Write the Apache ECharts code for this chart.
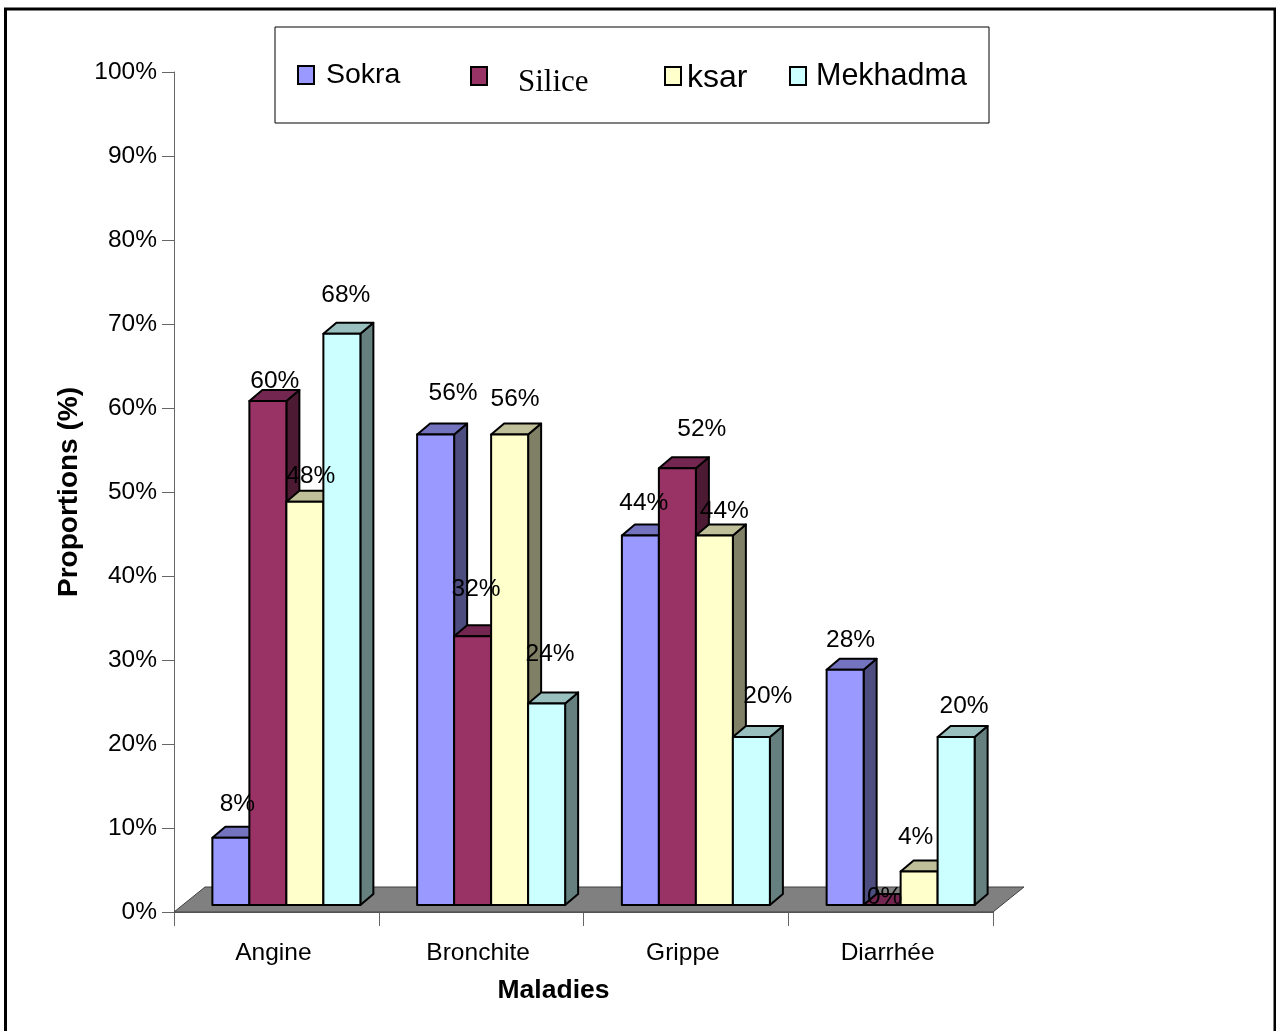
<!DOCTYPE html>
<html>
<head>
<meta charset="utf-8">
<style>html,body{margin:0;padding:0;background:#fff}#c{width:1276px;height:1031px}</style>
<script src="https://cdn.jsdelivr.net/npm/echarts@6/dist/echarts.min.js"></script>
</head>
<body>
<div id="c"></div>
<script>
var categories = ['Angine', 'Bronchite', 'Grippe', 'Diarrhée'];
var sokra = [8, 56, 44, 28];
var silice = [60, 32, 52, 0];
var ksar = [48, 56, 44, 4];
var mekhadma = [68, 24, 20, 20];
var seriesNames = ['Sokra', 'Silice', 'ksar', 'Mekhadma'];
var seriesValues = [sokra, silice, ksar, mekhadma];

// Styling and layout tables
var fronts = ['#9999FF', '#993366', '#FFFFCC', '#CCFFFF'];
var tops = ['#7373BF', '#732650', '#BFBF99', '#99BFBF'];
var sides = ['#4D4D80', '#4D1A33', '#808066', '#668080'];
var labelShift = [
  [[6.5, -34], [17.5, -41], [3.5, -32], [5.5, -30]],
  [[7, -20], [3.5, -47], [24.5, -39], [2.5, -8]],
  [[6, -26], [5.5, -35], [10, -24], [-3.5, -34]],
  [[4, -39], [3.5, -49], [16.5, -41], [8, -31]]
];
var FONT = '"Liberation Sans", Arial, sans-serif';
var BAR_W = 37, DX = 13, DY = 11, BASE_SHIFT = 7, GROUP_SHIFT = 10;

function barX(cx, s) { return cx + GROUP_SHIFT - 2 * BAR_W + s * BAR_W; }

function barRender(s) {
  return function (params, api) {
    var p = api.coord([api.value(0), api.value(1)]);
    var p0 = api.coord([api.value(0), 0]);
    var x = barX(p[0], s), y = p[1] - BASE_SHIFT, b = p0[1] - BASE_SHIFT, w = BAR_W;
    var st = function (c) { return { fill: c, stroke: '#000', lineWidth: 2, lineJoin: 'round' }; };
    return {
      type: 'group',
      children: [
        { type: 'polygon', shape: { points: [[x + w, y], [x + w + DX, y - DY], [x + w + DX, b - DY], [x + w, b]] }, style: st(sides[s]) },
        { type: 'polygon', shape: { points: [[x, y], [x + DX, y - DY], [x + w + DX, y - DY], [x + w, y]] }, style: st(tops[s]) },
        { type: 'rect', shape: { x: x, y: y, width: w, height: b - y }, style: st(fronts[s]) }
      ]
    };
  };
}

var series = [{
  type: 'custom',
  name: 'floor',
  silent: true,
  z: 1,
  clip: false,
  data: [[0, 0]],
  encode: { x: 0, y: 1 },
  renderItem: function (params, api) {
    var cs = params.coordSys;
    var y = cs.y + cs.height, l = cs.x, r = cs.x + cs.width;
    return {
      type: 'polygon',
      shape: { points: [[l, y], [l + 31, y - 25], [r + 31, y - 25], [r, y]] },
      style: { fill: '#808080', stroke: '#404040', lineWidth: 1 }
    };
  }
}];
seriesNames.forEach(function (name, s) {
  series.push({
    type: 'custom',
    name: name,
    silent: true,
    z: 2 + s,
    clip: false,
    itemStyle: { color: fronts[s] },
    data: seriesValues[s].map(function (v, i) { return [i, v]; }),
    encode: { x: 0, y: 1 },
    renderItem: barRender(s)
  });
});
var labelData = [];
seriesValues.forEach(function (vals, s) {
  vals.forEach(function (v, i) { labelData.push([i, v, s]); });
});
series.push({
  type: 'custom',
  name: 'labels',
  silent: true,
  z: 10,
  clip: false,
  data: labelData,
  encode: { x: 0, y: 1 },
  renderItem: function (params, api) {
    var i = api.value(0), v = api.value(1), s = api.value(2);
    var p = api.coord([i, v]);
    var sh = labelShift[s][i];
    return {
      type: 'text',
      style: {
        x: barX(p[0], s) + BAR_W / 2 + sh[0],
        y: p[1] - BASE_SHIFT + sh[1],
        text: v + '%',
        font: '24.5px ' + FONT,
        fill: '#000',
        align: 'center',
        verticalAlign: 'middle'
      }
    };
  }
});

function legendFor(i, left, top, padding, fontFamily, fontSize) {
  return {
    left: left, top: top, orient: 'horizontal', padding: 0,
    itemWidth: 16, itemHeight: 18,
    itemStyle: { borderColor: '#000', borderWidth: 2 },
    selectedMode: false,
    data: [{ name: seriesNames[i], icon: 'rect' }],
    formatter: '{t|{name}}',
    textStyle: {
      color: '#000',
      rich: { t: { color: '#000', fontFamily: fontFamily, fontSize: fontSize, padding: padding } }
    }
  };
}

var option = {
  animation: false,
  backgroundColor: '#fff',
  grid: { left: 174, right: 283, top: 72, bottom: 119, containLabel: false },
  legend: [
    legendFor(0, 297, 61, [1, 0, 0, 7], FONT, 28.5),
    legendFor(1, 470, 66, [14, 0, 0, 26], '"Liberation Serif", serif', 31),
    legendFor(2, 664, 62, [4, 0, 0, 1], FONT, 32),
    legendFor(3, 789, 61.5, [2, 0, 0, 5], FONT, 30.5)
  ],
  xAxis: {
    type: 'category',
    data: categories,
    boundaryGap: true,
    name: 'Maladies',
    nameLocation: 'middle',
    nameGap: 65,
    nameTextStyle: { fontFamily: FONT, fontWeight: 'bold', fontSize: 26.5, color: '#000', padding: [0, 60, 0, 0] },
    axisLine: { show: true, lineStyle: { color: '#666', width: 1 } },
    axisTick: { show: true, length: 14, alignWithLabel: false, lineStyle: { color: '#666', width: 1 } },
    axisLabel: { margin: 29, fontFamily: FONT, fontSize: 24.5, color: '#000', padding: [0, 6, 0, 0] }
  },
  yAxis: {
    type: 'value',
    min: 0,
    max: 100,
    interval: 10,
    name: 'Proportions (%)',
    nameLocation: 'middle',
    nameGap: 90,
    nameRotate: 90,
    nameTextStyle: { fontFamily: FONT, fontWeight: 'bold', fontSize: 28, color: '#000' },
    axisLine: { show: true, lineStyle: { color: '#666', width: 1 } },
    axisTick: { show: true, length: 12, lineStyle: { color: '#666', width: 1 } },
    axisLabel: { margin: 17, fontFamily: FONT, fontSize: 24.5, color: '#000', formatter: '{value}%', padding: [2, 0, 0, 0] },
    splitLine: { show: false }
  },
  graphic: [
    { type: 'rect', silent: true, z: 0, shape: { x: 275, y: 27, width: 714, height: 96 }, style: { fill: '#fff', stroke: '#000', lineWidth: 1 } },
    { type: 'polyline', silent: true, z: 0, shape: { points: [[5.5, 1031], [5.5, 9], [1275, 9], [1275, 1031]] }, style: { fill: null, stroke: '#000', lineWidth: 3 } }
  ],
  series: series
};
var chart = echarts.init(document.getElementById('c'), null, { renderer: 'canvas' });
chart.setOption(option);
</script>
</body>
</html>
